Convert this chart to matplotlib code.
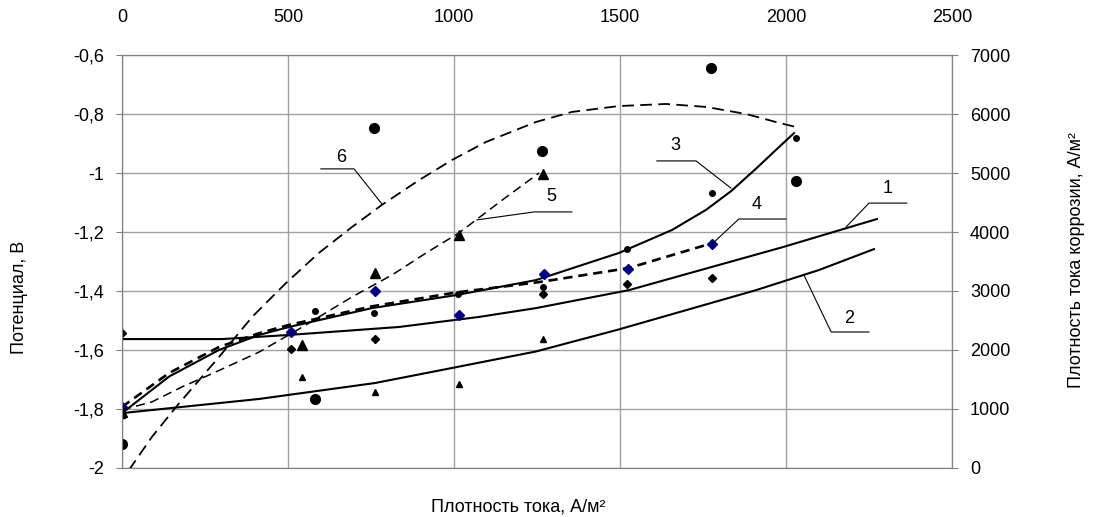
import numpy as np
import matplotlib
matplotlib.use("Agg")
import matplotlib.pyplot as plt
from matplotlib.ticker import FuncFormatter

plt.rcParams['font.family'] = ['Liberation Sans', 'DejaVu Sans']

# ---- trend curves on the potential axis (x in A/m2, potential in V)
c1_x = [0, 301, 503, 834, 1075, 1247, 1527, 1991, 2274]
c1_y = [-1.563, -1.563, -1.549, -1.522, -1.488, -1.458, -1.397, -1.251, -1.156]

c2_x = [0, 413, 762, 994, 1247, 1491, 1910, 2099, 2265]
c2_y = [-1.814, -1.766, -1.712, -1.661, -1.605, -1.532, -1.397, -1.329, -1.258]

c3_x = [0, 142, 292, 413, 503, 753, 1006, 1247, 1497, 1657, 1759, 1834, 1910, 1979, 2024]
c3_y = [-1.814, -1.69, -1.6, -1.549, -1.522, -1.458, -1.414, -1.363, -1.271, -1.193,
        -1.125, -1.062, -0.985, -0.912, -0.865]

c4_x = [0, 142, 292, 413, 503, 753, 1006, 1256, 1527, 1759]
c4_y = [-1.793, -1.678, -1.59, -1.543, -1.515, -1.452, -1.405, -1.37, -1.322, -1.244]

# ---- trend curves on the corrosion current axis (A/m2)
c5_x = [0, 90, 181, 262, 413, 539, 693, 813, 916, 1015, 1145, 1256]
c5_y = [985, 1120, 1375, 1575, 1965, 2375, 2900, 3270, 3645, 3985, 4540, 5000]

c6_x = [21, 90, 163, 292, 392, 494, 593, 693, 783, 895, 994, 1096, 1247, 1355, 1497,
        1639, 1759, 1880, 1979, 2030]
c6_y = [-35, 525, 1035, 1880, 2560, 3135, 3645, 4085, 4460, 4880, 5220, 5525, 5865, 6035,
        6135, 6170, 6120, 6000, 5850, 5780]

# ---- measured points
p1_x = [0, 509, 762, 1268, 1521, 1777]                 # black diamonds
p1_y = [-1.542, -1.597, -1.563, -1.41, -1.376, -1.356]
p2_x = [0, 542, 762, 1015, 1268]                        # small triangles
p2_y = [-1.82, -1.69, -1.742, -1.715, -1.563]
p3_x = [0, 581, 759, 1012, 1268, 1521, 1777, 2030]      # small circles
p3_y = [-1.81, -1.468, -1.474, -1.41, -1.386, -1.258, -1.068, -0.88]
p4_x = [0, 509, 762, 1015, 1270, 1524, 1777]            # blue diamonds
p4_y = [-1.793, -1.539, -1.40, -1.481, -1.342, -1.325, -1.241]
p5_x = [0, 542, 762, 1015, 1268]                        # big triangles
p5_y = [950, 2085, 3305, 3950, 4985]
p6_x = [0, 581, 759, 1265, 1774, 2030]                  # big circles
p6_y = [405, 1170, 5765, 5375, 6780, 4865]

x_ticks = [0, 500, 1000, 1500, 2000, 2500]
v_ticks = [-2, -1.8, -1.6, -1.4, -1.2, -1, -0.8, -0.6]
r_ticks = [0, 1000, 2000, 3000, 4000, 5000, 6000, 7000]

fs = 13
fig = plt.figure(figsize=(10.93, 5.17), dpi=100)
ax = fig.add_axes([0.1116, 0.0948, 0.7594, 0.7988])
ax2 = ax.twinx()

grid_c = '#a0a0a0'
ax.set_xlim(0, 2500)
ax.set_ylim(-2, -0.6)
ax2.set_ylim(0, 7000)
ax.set_xticks(x_ticks)
ax.set_yticks(v_ticks)
ax2.set_yticks(r_ticks)
ax.yaxis.set_major_formatter(FuncFormatter(lambda v, p: f"{v:g}".replace('.', ',')))
ax.grid(True, color=grid_c, lw=1.0)
for a in (ax, ax2):
    for s in a.spines.values():
        s.set_color('#808080')
ax.xaxis.tick_top()
ax.xaxis.set_label_position('bottom')
ax.tick_params(axis='x', length=0, pad=21, labelsize=fs)
ax.tick_params(axis='y', length=4, color='#808080', pad=9, labelsize=fs)
ax2.tick_params(axis='y', length=4, color='#808080', pad=9, labelsize=fs)

ax.set_xlabel('Плотность тока, А/м²', fontsize=fs)
ax.xaxis.set_label_coords(0.477, -0.075)
ax.set_ylabel('Потенциал, В', fontsize=fs)
ax.yaxis.set_label_coords(-0.113, 0.414)
ax2.set_ylabel('Плотность тока коррозии, А/м²', fontsize=fs)
ax2.yaxis.set_label_coords(1.14, 0.504)

# curves
ax.plot(c1_x, c1_y, color='black', lw=1.5)
ax.plot(c2_x, c2_y, color='black', lw=1.5)
ax.plot(c3_x, c3_y, color='black', lw=1.5)
ax.plot(c4_x, c4_y, color='black', lw=1.9, dashes=(3.5, 2.2))
ax2.plot(c5_x, c5_y, color='black', lw=1.1, dashes=(6, 3.5))
ax2.plot(c6_x, c6_y, color='black', lw=1.3, dashes=(6.5, 3.5))

# points
ax.plot(p1_x, p1_y, 'D', color='black', ms=3.8, ls='none')
ax.plot(p2_x, p2_y, '^', color='black', ms=5, ls='none')
ax.plot(p3_x, p3_y, 'o', color='black', ms=4, ls='none')
ax.plot(p4_x, p4_y, 'D', color='#000080', ms=5, ls='none')
ax2.plot(p5_x, p5_y, '^', color='black', ms=7.5, ls='none')
ax2.plot(p6_x, p6_y, 'o', color='black', ms=7, ls='none')

# curve number callouts
callouts = [
    ('6', (660, -0.946), [599, 699, 783], [-0.986, -0.986, -1.105]),
    ('5', (1292, -1.081), [1069, 1241, 1355], [-1.159, -1.132, -1.132]),
    ('3', (1666, -0.908), [1611, 1729, 1834], [-0.959, -0.959, -1.051]),
    ('4', (1913, -1.108), [1777, 1858, 2000], [-1.241, -1.156, -1.156]),
    ('1', (2307, -1.051), [2181, 2250, 2364], [-1.183, -1.102, -1.102]),
    ('2', (2190, -1.492), [2054, 2136, 2250], [-1.346, -1.539, -1.539]),
]
for lab, (tx, ty), lx, ly in callouts:
    ax2.plot(lx, [(v + 2) * 5000 for v in ly], color='black', lw=0.8)
    ax2.text(tx, (ty + 2) * 5000, lab, fontsize=fs, ha='center', va='center')

fig.savefig('out.png', dpi=100)
